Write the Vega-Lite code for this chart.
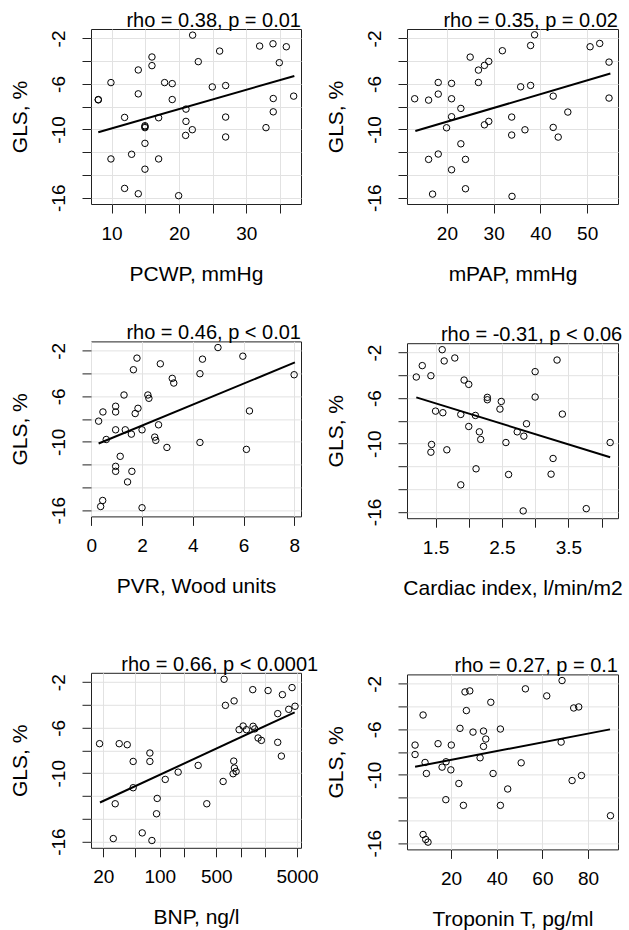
{
  "$schema": "https://vega.github.io/schema/vega-lite/v6.json",
  "padding": {"left": 8, "top": 0, "right": 0, "bottom": 0},
  "background": "white",
  "datasets": {
    "pcwp": [
      {"value": 22.03, "gls": -1.71}, {"value": 31.98, "gls": -2.67}, {"value": 33.96, "gls": -2.47}, {"value": 35.94, "gls": -2.73},
      {"value": 15.99, "gls": -3.63}, {"value": 15.99, "gls": -4.39}, {"value": 26.04, "gls": -3.11}, {"value": 22.87, "gls": -4.04},
      {"value": 34.9, "gls": -4.13}, {"value": 13.96, "gls": -4.77}, {"value": 9.9, "gls": -5.88}, {"value": 17.87, "gls": -5.88},
      {"value": 19.0, "gls": -5.97}, {"value": 24.95, "gls": -6.26}, {"value": 26.93, "gls": -6.14}, {"value": 13.96, "gls": -6.87},
      {"value": 8.02, "gls": -7.37}, {"value": 8.02, "gls": -7.4}, {"value": 19.0, "gls": -7.37}, {"value": 34.0, "gls": -7.28},
      {"value": 37.03, "gls": -7.07}, {"value": 21.04, "gls": -8.21}, {"value": 34.0, "gls": -8.45}, {"value": 11.93, "gls": -8.94},
      {"value": 16.98, "gls": -8.97}, {"value": 26.93, "gls": -8.91}, {"value": 21.04, "gls": -9.29}, {"value": 14.95, "gls": -9.67},
      {"value": 14.95, "gls": -9.84}, {"value": 14.95, "gls": -9.76}, {"value": 21.98, "gls": -10.02}, {"value": 32.92, "gls": -9.84},
      {"value": 20.99, "gls": -10.52}, {"value": 26.93, "gls": -10.66}, {"value": 14.95, "gls": -11.22}, {"value": 9.9, "gls": -12.59},
      {"value": 12.97, "gls": -12.18}, {"value": 16.98, "gls": -12.59}, {"value": 14.95, "gls": -13.49}, {"value": 11.93, "gls": -15.18},
      {"value": 13.96, "gls": -15.65}, {"value": 19.95, "gls": -15.82}
    ],
    "pcwp_fit": [{"value": 8.02, "gls": -10.25}, {"value": 37.13, "gls": -5.3}],
    "mpap": [
      {"value": 38.76, "gls": -1.68}, {"value": 37.91, "gls": -2.62}, {"value": 50.63, "gls": -2.73}, {"value": 52.69, "gls": -2.44},
      {"value": 54.68, "gls": -4.08}, {"value": 31.87, "gls": -3.08}, {"value": 24.98, "gls": -3.64}, {"value": 26.75, "gls": -4.78},
      {"value": 28.03, "gls": -4.37}, {"value": 28.96, "gls": -4.02}, {"value": 18.15, "gls": -5.87}, {"value": 21.0, "gls": -5.95},
      {"value": 26.75, "gls": -5.87}, {"value": 35.78, "gls": -6.25}, {"value": 37.91, "gls": -6.13}, {"value": 18.15, "gls": -6.89},
      {"value": 13.11, "gls": -7.3}, {"value": 16.09, "gls": -7.42}, {"value": 21.0, "gls": -7.3}, {"value": 42.74, "gls": -7.07},
      {"value": 54.68, "gls": -7.24}, {"value": 22.99, "gls": -8.15}, {"value": 45.87, "gls": -8.47}, {"value": 21.0, "gls": -8.88},
      {"value": 33.86, "gls": -8.91}, {"value": 19.93, "gls": -9.85}, {"value": 28.03, "gls": -9.59}, {"value": 28.96, "gls": -9.29},
      {"value": 36.7, "gls": -10.03}, {"value": 33.86, "gls": -10.49}, {"value": 42.74, "gls": -9.82}, {"value": 43.81, "gls": -10.67},
      {"value": 22.99, "gls": -11.26}, {"value": 16.09, "gls": -12.63}, {"value": 18.15, "gls": -12.16}, {"value": 23.98, "gls": -12.63},
      {"value": 21.0, "gls": -13.54}, {"value": 23.98, "gls": -15.21}, {"value": 16.94, "gls": -15.68}, {"value": 33.93, "gls": -15.88}
    ],
    "mpap_fit": [{"value": 13.25, "gls": -10.14}, {"value": 54.97, "gls": -5.08}],
    "pvr": [
      {"value": 4.99, "gls": -1.71}, {"value": 5.97, "gls": -2.47}, {"value": 1.8, "gls": -2.64}, {"value": 4.38, "gls": -2.73},
      {"value": 2.72, "gls": -3.14}, {"value": 1.66, "gls": -3.66}, {"value": 4.28, "gls": -4.01}, {"value": 7.99, "gls": -4.1},
      {"value": 3.19, "gls": -4.42}, {"value": 3.25, "gls": -4.83}, {"value": 1.29, "gls": -5.88}, {"value": 2.23, "gls": -5.88},
      {"value": 2.27, "gls": -6.17}, {"value": 0.96, "gls": -6.87}, {"value": 1.84, "gls": -7.05}, {"value": 0.46, "gls": -7.37},
      {"value": 0.96, "gls": -7.37}, {"value": 1.73, "gls": -7.51}, {"value": 6.23, "gls": -7.28}, {"value": 0.29, "gls": -8.18},
      {"value": 2.65, "gls": -8.5}, {"value": 0.96, "gls": -8.94}, {"value": 1.34, "gls": -8.94}, {"value": 2.0, "gls": -8.94},
      {"value": 1.58, "gls": -9.32}, {"value": 2.5, "gls": -9.58}, {"value": 2.54, "gls": -9.87}, {"value": 0.59, "gls": -9.79},
      {"value": 4.28, "gls": -10.05}, {"value": 2.98, "gls": -10.49}, {"value": 6.11, "gls": -10.66}, {"value": 1.14, "gls": -11.27},
      {"value": 0.96, "gls": -12.15}, {"value": 0.96, "gls": -12.59}, {"value": 1.6, "gls": -12.59}, {"value": 1.43, "gls": -13.52},
      {"value": 0.45, "gls": -15.15}, {"value": 0.37, "gls": -15.68}, {"value": 2.0, "gls": -15.79}
    ],
    "pvr_fit": [{"value": 0.29, "gls": -10.14}, {"value": 8.02, "gls": -3.02}],
    "ci": [
      {"value": 1.6, "gls": -1.74}, {"value": 1.3, "gls": -3.14}, {"value": 1.63, "gls": -2.73}, {"value": 1.79, "gls": -2.47},
      {"value": 3.33, "gls": -2.65}, {"value": 1.21, "gls": -4.14}, {"value": 1.43, "gls": -4.03}, {"value": 3.0, "gls": -3.67},
      {"value": 1.93, "gls": -4.41}, {"value": 2.0, "gls": -4.79}, {"value": 2.28, "gls": -5.93}, {"value": 2.28, "gls": -6.14},
      {"value": 3.0, "gls": -5.9}, {"value": 2.49, "gls": -6.29}, {"value": 2.47, "gls": -6.96}, {"value": 1.5, "gls": -7.14},
      {"value": 1.61, "gls": -7.28}, {"value": 1.88, "gls": -7.43}, {"value": 2.1, "gls": -7.52}, {"value": 3.41, "gls": -7.4},
      {"value": 2.0, "gls": -8.49}, {"value": 2.87, "gls": -8.25}, {"value": 2.16, "gls": -8.96}, {"value": 2.73, "gls": -8.96},
      {"value": 2.83, "gls": -9.34}, {"value": 2.18, "gls": -9.63}, {"value": 2.56, "gls": -9.9}, {"value": 4.13, "gls": -9.9},
      {"value": 1.44, "gls": -10.07}, {"value": 1.43, "gls": -10.75}, {"value": 1.67, "gls": -10.54}, {"value": 3.27, "gls": -11.3},
      {"value": 2.11, "gls": -12.21}, {"value": 2.6, "gls": -12.71}, {"value": 3.24, "gls": -12.68}, {"value": 1.88, "gls": -13.62},
      {"value": 2.82, "gls": -15.91}, {"value": 3.77, "gls": -15.71}
    ],
    "ci_fit": [{"value": 1.21, "gls": -5.93}, {"value": 4.13, "gls": -11.19}],
    "bnp": [
      {"value": 626, "gls": -1.74}, {"value": 1416, "gls": -2.65}, {"value": 2192, "gls": -2.73}, {"value": 3296, "gls": -3.09},
      {"value": 4339, "gls": -2.47}, {"value": 650, "gls": -4.03}, {"value": 832, "gls": -3.64}, {"value": 2884, "gls": -4.76},
      {"value": 3947, "gls": -4.38}, {"value": 4724, "gls": -4.11}, {"value": 960, "gls": -6.17}, {"value": 1076, "gls": -5.85},
      {"value": 1183, "gls": -6.17}, {"value": 1430, "gls": -5.87}, {"value": 1500, "gls": -6.1}, {"value": 1648, "gls": -6.9},
      {"value": 1811, "gls": -7.11}, {"value": 2884, "gls": -7.28}, {"value": 3201, "gls": -8.49}, {"value": 18.0, "gls": -7.4},
      {"value": 31.5, "gls": -7.4}, {"value": 39.6, "gls": -7.49}, {"value": 75.5, "gls": -8.22}, {"value": 46.9, "gls": -8.96},
      {"value": 75.5, "gls": -8.96}, {"value": 299, "gls": -9.31}, {"value": 824, "gls": -8.93}, {"value": 840, "gls": -9.54},
      {"value": 881, "gls": -9.84}, {"value": 809, "gls": -10.04}, {"value": 169, "gls": -9.9}, {"value": 117, "gls": -10.54},
      {"value": 609, "gls": -10.72}, {"value": 46.9, "gls": -11.27}, {"value": 28.1, "gls": -12.68}, {"value": 93, "gls": -12.21},
      {"value": 382, "gls": -12.68}, {"value": 91.2, "gls": -13.56}, {"value": 60.7, "gls": -15.24}, {"value": 26.6, "gls": -15.74},
      {"value": 80, "gls": -15.91}
    ],
    "bnp_fit": [{"value": 18.2, "gls": -12.57}, {"value": 4677, "gls": -4.64}],
    "tnt": [
      {"value": 68.6, "gls": -1.71}, {"value": 52.55, "gls": -2.44}, {"value": 61.9, "gls": -3.06}, {"value": 26.1, "gls": -2.71},
      {"value": 28.2, "gls": -2.62}, {"value": 37.4, "gls": -3.62}, {"value": 73.7, "gls": -4.12}, {"value": 75.9, "gls": -4.03},
      {"value": 26.7, "gls": -4.35}, {"value": 7.74, "gls": -4.74}, {"value": 23.9, "gls": -5.91}, {"value": 29.6, "gls": -6.24},
      {"value": 34.2, "gls": -6.15}, {"value": 41.6, "gls": -5.97}, {"value": 35.2, "gls": -6.85}, {"value": 34.2, "gls": -7.5},
      {"value": 4.23, "gls": -7.38}, {"value": 14.3, "gls": -7.26}, {"value": 20.1, "gls": -7.38}, {"value": 68.2, "gls": -7.12},
      {"value": 4.23, "gls": -8.21}, {"value": 8.61, "gls": -8.91}, {"value": 17.8, "gls": -8.85}, {"value": 16.06, "gls": -9.32},
      {"value": 32.7, "gls": -8.5}, {"value": 50.7, "gls": -8.94}, {"value": 19.9, "gls": -9.56}, {"value": 9.2, "gls": -9.88},
      {"value": 38.4, "gls": -9.88}, {"value": 23.4, "gls": -10.76}, {"value": 73.0, "gls": -10.5}, {"value": 77.1, "gls": -10.06},
      {"value": 44.8, "gls": -11.24}, {"value": 17.7, "gls": -12.18}, {"value": 25.4, "gls": -12.68}, {"value": 41.6, "gls": -12.68},
      {"value": 89.8, "gls": -13.59}, {"value": 7.74, "gls": -15.24}, {"value": 8.9, "gls": -15.68}, {"value": 9.9, "gls": -15.91}
    ],
    "tnt_fit": [{"value": 4.23, "gls": -9.29}, {"value": 89.6, "gls": -6.0}]
  },
  "columns": 2,
  "align": "none",
  "spacing": 5,
  "concat": [
    {
      "spacing": 37.4,
      "vconcat": [
        {
          "width": 210, "height": 175,
          "title": {"text": "rho = 0.38, p = 0.01"},
          "encoding": {
            "x": {"field": "value", "type": "quantitative", "scale": {"domain": [6.94, 38.12], "nice": false, "zero": false},
                  "axis": {"title": "PCWP, mmHg", "values": [10, 15, 20, 25, 30, 35], "labelExpr": "datum.value % 10 === 0 ? '' + datum.value : ''"}},
            "y": {"field": "gls", "type": "quantitative", "scale": {"domain": [-16.55, -1.17], "nice": false, "zero": false},
                  "axis": {"title": "GLS, %", "values": [-2, -4, -6, -8, -10, -12, -14, -16], "labelExpr": "indexof([-2, -6, -10, -16], datum.value) >= 0 ? '' + datum.value : ''"}}
          },
          "layer": [
            {"data": {"name": "pcwp"}, "mark": {"type": "point", "shape": "circle", "filled": false, "color": "black", "opacity": 1, "size": 42, "strokeWidth": 1}},
            {"data": {"name": "pcwp_fit"}, "mark": {"type": "line", "color": "black", "strokeWidth": 2}}
          ]
        },
        {
          "width": 210, "height": 175,
          "title": {"text": "rho = 0.46, p < 0.01"},
          "encoding": {
            "x": {"field": "value", "type": "quantitative", "scale": {"domain": [-0.01, 8.26], "nice": false, "zero": false},
                  "axis": {"title": "PVR, Wood units", "values": [0, 2, 4, 6, 8], "labelExpr": "'' + datum.value"}},
            "y": {"field": "gls", "type": "quantitative", "scale": {"domain": [-16.55, -1.17], "nice": false, "zero": false},
                  "axis": {"title": "GLS, %", "values": [-2, -4, -6, -8, -10, -12, -14, -16], "labelExpr": "indexof([-2, -6, -10, -16], datum.value) >= 0 ? '' + datum.value : ''"}}
          },
          "layer": [
            {"data": {"name": "pvr"}, "mark": {"type": "point", "shape": "circle", "filled": false, "color": "black", "opacity": 1, "size": 42, "strokeWidth": 1}},
            {"data": {"name": "pvr_fit"}, "mark": {"type": "line", "color": "black", "strokeWidth": 2}}
          ]
        },
        {
          "width": 210, "height": 175,
          "title": {"text": ["", "rho = 0.66, p < 0.0001"], "lineHeight": 18.6},
          "encoding": {
            "x": {"field": "value", "type": "quantitative", "scale": {"type": "log", "domain": [14.1, 5600], "nice": false},
                  "axis": {"title": "BNP, ng/l", "values": [20, 50, 100, 200, 500, 1000, 2000, 5000], "labelExpr": "indexof([20, 100, 500, 5000], datum.value) >= 0 ? '' + datum.value : ''"}},
            "y": {"field": "gls", "type": "quantitative", "scale": {"domain": [-16.55, -1.17], "nice": false, "zero": false},
                  "axis": {"title": "GLS, %", "values": [-2, -4, -6, -8, -10, -12, -14, -16], "labelExpr": "indexof([-2, -6, -10, -16], datum.value) >= 0 ? '' + datum.value : ''"}}
          },
          "layer": [
            {"data": {"name": "bnp"}, "mark": {"type": "point", "shape": "circle", "filled": false, "color": "black", "opacity": 1, "size": 42, "strokeWidth": 1}},
            {"data": {"name": "bnp_fit"}, "mark": {"type": "line", "color": "black", "strokeWidth": 2}}
          ]
        }
      ]
    },
    {
      "spacing": 39.2,
      "vconcat": [
        {
          "width": 211, "height": 175,
          "title": {"text": ["", "rho = 0.35, p = 0.02"], "lineHeight": 10.5},
          "encoding": {
            "x": {"field": "value", "type": "quantitative", "scale": {"domain": [11.47, 56.6], "nice": false, "zero": false},
                  "axis": {"title": "mPAP, mmHg", "values": [20, 30, 40, 50], "labelExpr": "'' + datum.value"}},
            "y": {"field": "gls", "type": "quantitative", "scale": {"domain": [-16.55, -1.17], "nice": false, "zero": false},
                  "axis": {"title": "GLS, %", "values": [-2, -4, -6, -8, -10, -12, -14, -16], "labelExpr": "indexof([-2, -6, -10, -16], datum.value) >= 0 ? '' + datum.value : ''"}}
          },
          "layer": [
            {"data": {"name": "mpap"}, "mark": {"type": "point", "shape": "circle", "filled": false, "color": "black", "opacity": 1, "size": 42, "strokeWidth": 1}},
            {"data": {"name": "mpap_fit"}, "mark": {"type": "line", "color": "black", "strokeWidth": 2}}
          ]
        },
        {
          "width": 211, "height": 175,
          "title": {"text": "rho = -0.31, p < 0.06"},
          "encoding": {
            "x": {"field": "value", "type": "quantitative", "scale": {"domain": [1.07, 4.248], "nice": false, "zero": false},
                  "axis": {"title": "Cardiac index, l/min/m2", "values": [1.5, 2, 2.5, 3, 3.5, 4], "labelExpr": "indexof([1.5, 2.5, 3.5], datum.value) >= 0 ? format(datum.value, '.1f') : ''"}},
            "y": {"field": "gls", "type": "quantitative", "scale": {"domain": [-16.55, -1.17], "nice": false, "zero": false},
                  "axis": {"title": "GLS, %", "values": [-2, -4, -6, -8, -10, -12, -14, -16], "labelExpr": "indexof([-2, -6, -10, -16], datum.value) >= 0 ? '' + datum.value : ''"}}
          },
          "layer": [
            {"data": {"name": "ci"}, "mark": {"type": "point", "shape": "circle", "filled": false, "color": "black", "opacity": 1, "size": 42, "strokeWidth": 1}},
            {"data": {"name": "ci_fit"}, "mark": {"type": "line", "color": "black", "strokeWidth": 2}}
          ]
        },
        {
          "width": 211, "height": 175,
          "title": {"text": ["", "rho = 0.27, p = 0.1"], "lineHeight": 17.2},
          "encoding": {
            "x": {"field": "value", "type": "quantitative", "scale": {"domain": [0.7, 93.1], "nice": false, "zero": false},
                  "axis": {"title": "Troponin T, pg/ml", "values": [20, 40, 60, 80], "labelExpr": "'' + datum.value"}},
            "y": {"field": "gls", "type": "quantitative", "scale": {"domain": [-16.55, -1.17], "nice": false, "zero": false},
                  "axis": {"title": "GLS, %", "values": [-2, -4, -6, -8, -10, -12, -14, -16], "labelExpr": "indexof([-2, -6, -10, -16], datum.value) >= 0 ? '' + datum.value : ''"}}
          },
          "layer": [
            {"data": {"name": "tnt"}, "mark": {"type": "point", "shape": "circle", "filled": false, "color": "black", "opacity": 1, "size": 42, "strokeWidth": 1}},
            {"data": {"name": "tnt_fit"}, "mark": {"type": "line", "color": "black", "strokeWidth": 2}}
          ]
        }
      ]
    }
  ],
  "config": {
    "font": "Liberation Sans",
    "view": {"stroke": "#222222", "strokeWidth": 1},
    "axis": {
      "domain": false, "grid": true, "gridColor": "#e2e2e2", "gridWidth": 1,
      "tickColor": "#222222", "tickSize": 9, "tickWidth": 1,
      "labelFont": "Liberation Sans", "labelFontSize": 19, "labelColor": "black",
      "labelOverlap": false, "labelFlush": false,
      "titleFont": "Liberation Sans", "titleFontSize": 21, "titleFontWeight": "normal", "titleColor": "black"
    },
    "axisX": {"labelPadding": 11, "titlePadding": 20},
    "axisY": {"labelAngle": -90, "labelAlign": "center", "labelBaseline": "alphabetic", "labelPadding": 18, "titlePadding": 19},
    "title": {"font": "Liberation Sans", "fontSize": 20, "fontWeight": "normal", "color": "black", "anchor": "end", "offset": -2}
  }
}
